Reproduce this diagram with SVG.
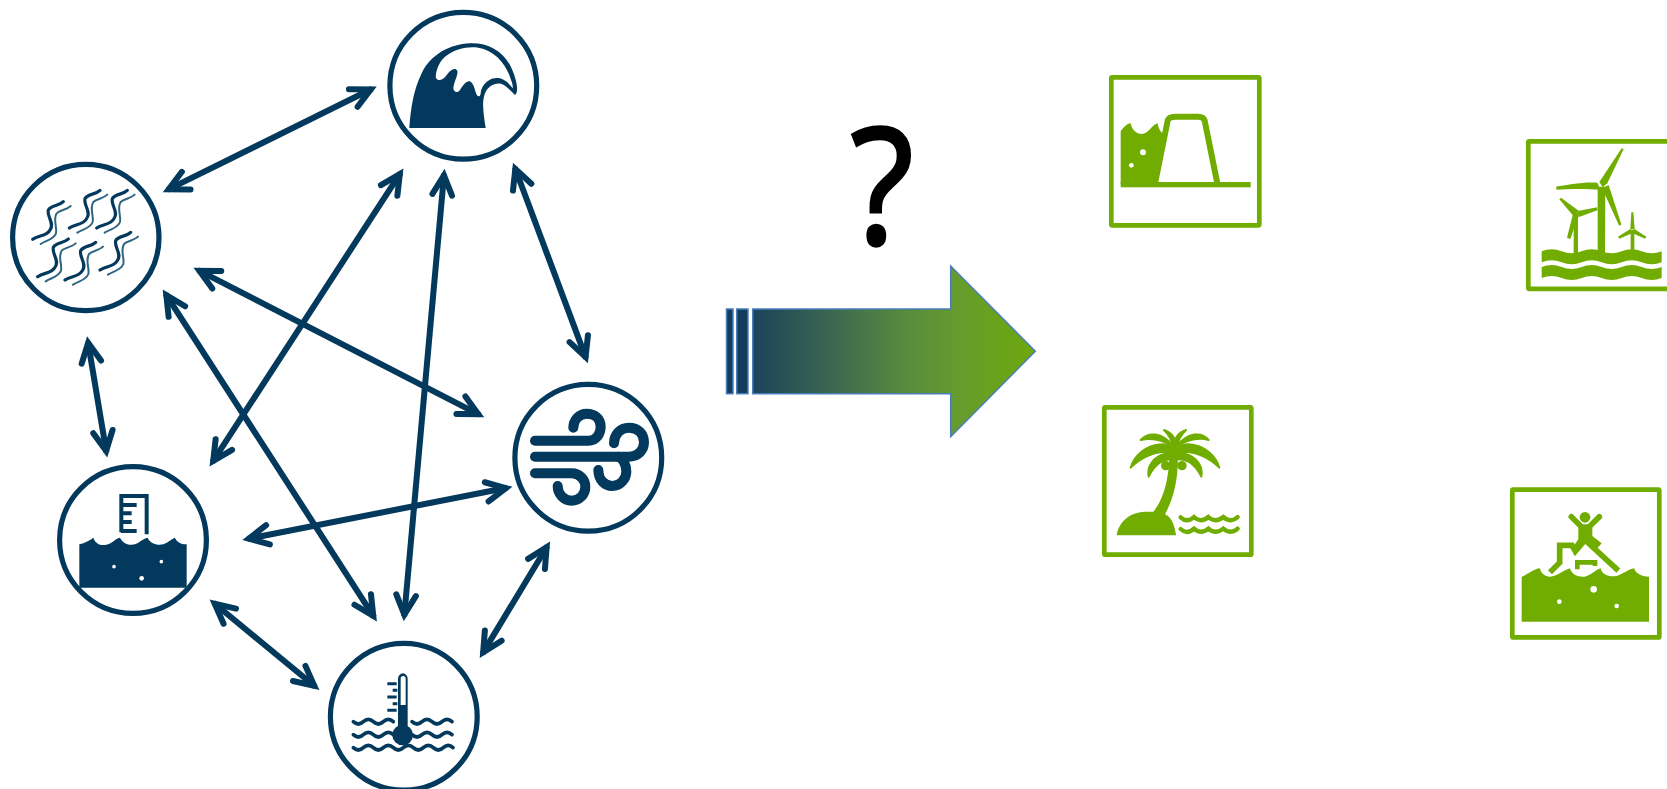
<svg xmlns="http://www.w3.org/2000/svg" xmlns:xlink="http://www.w3.org/1999/xlink" width="1667" height="789" viewBox="0 0 1667 789">
<style>
.ring{fill:#fff;stroke:#03395c;stroke-width:5.2}
.frame{fill:#fff;stroke:#70ad00;stroke-width:4.7;stroke-linejoin:round}
.conn{fill:none;stroke:#03395c;stroke-width:6;marker-start:url(#ah);marker-end:url(#ah)}
.n{fill:#03395c}.ns{fill:none;stroke:#03395c;stroke-linecap:round}
.g{fill:#70ad00}.gs{fill:none;stroke:#70ad00}
.w{fill:#fff}
.bar{stroke:#4a7ebb;stroke-width:1.5}
</style>
<defs>
<marker id="ah" markerUnits="userSpaceOnUse" viewBox="-28 -15 36 30" refX="0" refY="0" markerWidth="36" markerHeight="30" orient="auto-start-reverse">
<path d="M-21,-9.800 L-1.500,0 L-21,9.800" fill="none" stroke="#03395c" stroke-width="6" stroke-linecap="round" stroke-linejoin="miter"/>
</marker>
<linearGradient id="grad" gradientUnits="userSpaceOnUse" x1="740" y1="0" x2="1035" y2="0">
<stop offset="0" stop-color="#163d5c"/><stop offset=".3" stop-color="#3a6650"/><stop offset=".55" stop-color="#578a3e"/><stop offset=".75" stop-color="#669c2c"/><stop offset="1" stop-color="#6da80c"/>
</linearGradient>
<g id="sq">
<path d="M98,253 C115,240 140,245 150,225 C165,205 140,185 145,165 C155,148 175,155 190,140" fill="none" stroke="#03395c" stroke-width="9.500" stroke-linecap="round"/>
<path d="M122,267 C140,255 160,255 168,235 C172,215 158,195 170,175 C180,165 200,165 212,153" fill="none" stroke="#2f6482" stroke-width="6" stroke-linecap="round"/>
</g>
</defs>

<g id="connectors">
<line class="conn" x1="167.4" y1="189.9" x2="372.1" y2="88.7"/>
<line class="conn" x1="400.6" y1="172.9" x2="212.4" y2="462.1"/>
<line class="conn" x1="444.1" y1="173.8" x2="404.2" y2="616.2"/>
<line class="conn" x1="514.8" y1="167.5" x2="586.1" y2="358.4"/>
<line class="conn" x1="198.1" y1="270.2" x2="479.6" y2="414.8"/>
<line class="conn" x1="165.5" y1="293.9" x2="374.1" y2="617.1"/>
<line class="conn" x1="87.9" y1="341.4" x2="106.4" y2="452.3"/>
<line class="conn" x1="247.4" y1="538.9" x2="507.3" y2="487.8"/>
<line class="conn" x1="547.4" y1="546" x2="482.4" y2="653.6"/>
<line class="conn" x1="213.6" y1="602.8" x2="315.4" y2="686.8"/>
</g>

<g id="node-wave">
<circle class="ring" cx="463.3" cy="85.7" r="73.4"/>
<g transform="translate(380 0) scale(.33333)">
<path class="n" d="M88,384 H317 C310,340 305,305 315,280 C325,258 345,247 365,252 C380,258 395,275 405,285 C418,275 410,235 390,195 C365,150 320,128 270,130 C210,132 150,165 125,220 C100,270 92,330 88,384 Z"/>
<path class="w" d="M398,265 C388,252 378,240 360,235 C335,230 312,245 303,272 C302,285 300,292 293,288 C285,280 285,255 272,245 C260,240 250,255 240,270 C232,280 222,278 220,265 C222,245 235,225 232,212 C225,200 210,210 200,225 C190,240 175,245 168,235 C165,225 172,190 195,170 C225,146 265,138 295,143 C340,150 372,185 388,225 C394,243 400,255 398,265 Z"/>
</g>
</g>

<g id="node-rain">
<circle class="ring" cx="85.8" cy="237.5" r="73.2"/>
<g transform="translate(0 155) scale(.33333)">
<use href="#sq"/>
<use href="#sq" x="110" y="-34"/>
<use href="#sq" x="192" y="-34"/>
<use href="#sq" x="15" y="112"/>
<use href="#sq" x="97" y="122"/>
<use href="#sq" x="202" y="92"/>
</g>
</g>

<g id="node-wind">
<circle class="ring" cx="588.3" cy="457.8" r="73.4"/>
<g transform="translate(505 375) scale(.33333)" class="ns" stroke-width="30" fill="none">
<path d="M90,197 H250 C275,197 287,175 287,155 C287,130 268,116 245,116 C222,116 205,135 205,158"/>
<path d="M90,245 H370 C400,245 417,225 417,202 C417,175 398,158 372,158 C345,158 327,180 327,205"/>
<path d="M280,285 C280,315 300,333 322,333 C345,333 364,312 364,290 C364,272 355,250 340,245"/>
<path d="M90,295 H200 C225,295 241,315 241,335 C241,360 222,377 200,377 C175,377 158,355 158,333"/>
</g>
</g>

<g id="node-sealevel">
<circle class="ring" cx="133" cy="540" r="73.4"/>
<g transform="translate(50 455) scale(.33333)">
<path d="M214,232 V123 H290 V238 M213,150 H260 M213,175 H245 M213,201 H245 M213,228 H260" fill="none" stroke="#03395c" stroke-width="12"/>
<path class="n" d="M88,268 C105,265 120,255 130,248 C135,265 150,272 165,270 C185,268 195,250 210,248 C220,268 240,272 255,268 C270,262 280,250 293,248 C300,265 320,272 340,268 C355,262 365,252 375,248 C380,260 390,268 410,268 V398 H88 Z"/>
<circle class="w" cx="192" cy="335" r="5.500"/><circle class="w" cx="334" cy="320" r="5.500"/><circle class="w" cx="275" cy="370" r="7"/>
</g>
</g>

<g id="node-temperature">
<circle class="ring" cx="403.8" cy="716.7" r="73.4"/>
<g transform="translate(320 630) scale(.33333)">
<g fill="none" stroke="#03395c" stroke-width="9">
<path d="M202,161 H230 M218,181 H232 M202,201 H230 M218,221 H232 M202,241 H230"/>
</g>
<g class="ns" stroke-width="11" fill="none">
<path d="M100,275 q15,14 30,0 t30,0 t30,0 t30,0"/>
<path d="M276,275 q15,14 30,0 t30,0 t30,0 t30,0"/>
<path d="M100,314 q15,14 30,0 t30,0 t30,0 t30,0"/>
<path d="M276,314 q15,14 30,0 t30,0 t30,0 t30,0"/>
<path d="M100,353 q15,14 30,0 t30,0 t30,0 t30,0 t30,0 t30,0 t30,0 t30,0 t30,0 t29,0"/>
</g>
<path class="n" d="M234,146 a14.500,16 0 0 1 29,0 V290 H234 Z"/>
<path class="w" d="M242,146 a7.500,8 0 0 1 15,0 V225 H242 Z"/>
<circle class="n" cx="248" cy="315" r="31"/>
</g>
</g>

<g id="big-arrow">
<rect class="bar" x="726.500" y="309" width="6.500" height="84.700" fill="#143c5c"/>
<rect class="bar" x="736.700" y="309" width="11.300" height="84.700" fill="#143c5c"/>
<path class="bar" fill="url(#grad)" d="M752.700,309 H950.700 V266 L1035.300,351.300 L950.700,436.700 V393.700 H752.700 Z"/>
</g>

<text id="question" transform="translate(882 244) scale(1 1.1)" text-anchor="middle" font-family="'Open Sans',sans-serif" font-size="146" fill="#000" stroke="#000" stroke-width="3">?</text>

<g id="node-levee">
<rect class="frame" x="1111.300" y="77.300" width="148" height="148" rx="1"/>
<g transform="translate(1090 60) scale(.33333)">
<path class="g" d="M92,213 C100,205 110,190 122,190 C125,210 140,222 155,222 C175,222 185,195 203,190 C205,205 212,218 222,222 L203,372 H92 Z"/>
<path class="gs" stroke-width="18" d="M195,370 L233,182 C236,172 245,170 255,170 H325 C335,170 341,172 344,182 L382,370"/>
<rect class="g" x="92" y="366" width="390" height="16"/>
<circle class="w" cx="159" cy="277" r="9"/><circle class="w" cx="124" cy="316" r="7"/>
</g>
</g>

<g id="node-palm">
<rect class="frame" x="1104.300" y="407.300" width="147" height="147.400" rx="1"/>
<g transform="translate(1090 395) scale(.33333)">
<path class="g" d="M80,421 C85,385 115,352 165,350 L190,350 C215,320 235,270 238,185 L264,185 C264,270 245,320 225,358 C245,365 255,395 258,421 Z"/>
<g fill="#70ad00" stroke="#70ad00" stroke-width="6" stroke-linejoin="round">
<path d="M122,218 C132,185 165,150 215,148 C235,148 250,155 258,175 L225,170 C185,172 150,190 122,218 Z"/>
<path d="M152,135 C175,110 215,110 252,155 C215,132 180,128 152,135 Z"/>
<path d="M222,105 C245,112 258,130 258,160 L248,150 C245,135 235,118 222,105 Z"/>
<path d="M288,105 C265,112 252,130 252,160 L262,150 C265,135 275,118 288,105 Z"/>
<path d="M356,135 C335,110 295,110 258,155 C295,132 330,128 356,135 Z"/>
<path d="M388,218 C378,185 345,150 295,148 C275,148 260,155 252,175 L285,170 C325,172 360,190 388,218 Z"/>
<path d="M176,245 C170,215 190,185 225,176 L255,170 L258,195 C225,185 195,205 176,245 Z"/>
<path d="M334,245 C340,215 320,185 285,176 L255,170 L252,195 C285,185 315,205 334,245 Z"/>
</g>
<circle class="g" cx="227" cy="212" r="14"/><circle class="g" cx="276" cy="212" r="14"/>
<g class="gs" stroke-width="13" stroke-linecap="round">
<path d="M272,367 Q291,385 312,366 Q333,385 355,366 Q376,385 400,366 Q422,385 443,366"/>
<path d="M272,402 Q291,420 312,401 Q333,420 355,401 Q376,420 400,401 Q422,420 443,401"/>
</g>
</g>
</g>

<g id="node-turbines">
<rect class="frame" x="1528.300" y="141.300" width="148" height="147.500" rx="1"/>
<g transform="translate(1510 130) scale(.33333)">
<path class="g" d="M191,250 H204 V370 H191 Z M263,170 H286 L285,370 H263 Z M362,300 H373 V370 H362 Z"/>
<path class="g" d="M268,156 L335,55 L341,57 L292,160 L278,172 Z"/>
<path class="g" d="M138,170 C170,165 220,155 262,158 L272,180 C220,174 170,178 140,179 Z"/>
<path class="g" d="M276,175 L296,165 L334,283 L328,288 Z"/>
<path class="g" d="M148,208 L153,203 L207,243 L192,260 Z"/>
<path class="g" d="M203,243 L262,232 V241 L205,262 Z"/>
<path class="g" d="M189,252 L204,262 L181,327 L171,323 Z"/>
<path class="g" d="M361,298 L364,247 H370 L374,298 Z"/>
<path class="g" d="M362,296 L368,309 L328,326 L324,320 Z"/>
<path class="g" d="M372,296 L366,309 L405,326 L409,320 Z"/>
<path class="g" d="M95,364 q30,-12 60,0 t60,0 t60,0 t60,0 t60,0 t60,0 V397 q-30,12 -60,0 t-60,0 t-60,0 t-60,0 t-60,0 t-60,0 Z"/>
<path class="g" d="M95,411 q30,-12 60,0 t60,0 t60,0 t60,0 t60,0 t60,0 V444 q-30,12 -60,0 t-60,0 t-60,0 t-60,0 t-60,0 t-60,0 Z"/>
</g>
</g>

<g id="node-flood">
<rect class="frame" x="1512.300" y="489.600" width="147" height="147.800" rx="1"/>
<g transform="translate(1500 480) scale(.33333)">
<path class="gs" stroke-width="17" d="M150,277 L179,248 V196 H216 L226,214 L255,180 L355,272"/>
<path class="gs" stroke-width="14" d="M232,268 V247 H285 V258"/>
<path class="gs" stroke-width="17" stroke-linecap="round" d="M214,110 L242,138 M298,110 L270,138"/>
<circle class="g" cx="255" cy="112" r="16"/>
<path class="g" d="M235,133 H277 V168 L305,190 L290,207 L258,185 L235,207 L223,195 L235,178 Z"/>
<path class="g" d="M65,290 C80,285 105,265 120,265 C122,280 135,290 150,290 C170,290 195,268 210,265 C215,285 235,292 255,290 C275,285 285,270 302,265 C305,285 330,292 350,288 C370,282 385,268 403,265 C405,280 425,290 447,290 V425 H65 Z"/>
<circle class="w" cx="281" cy="328" r="10"/><circle class="w" cx="178" cy="365" r="7"/><circle class="w" cx="350" cy="378" r="7"/>
</g>
</g>
</svg>
